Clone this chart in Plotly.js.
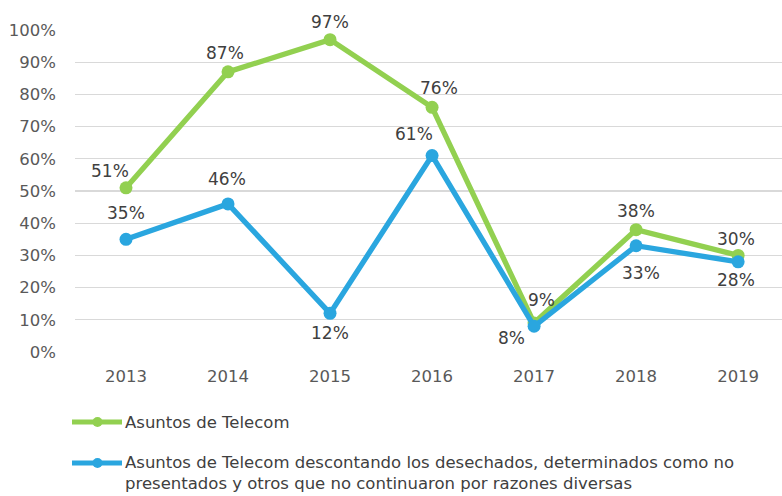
<!DOCTYPE html>
<html>
<head>
<meta charset="utf-8">
<script src="https://cdn.plot.ly/plotly-3.0.1.min.js"></script>
<style>html,body{margin:0;padding:0;background:#fff}#chart{width:782px;height:496px}</style>
</head>
<body>
<div id="chart"></div>
<script>
// ---- data ----
const years = ['2013','2014','2015','2016','2017','2018','2019'];
const telecom = [0.51, 0.87, 0.97, 0.76, 0.09, 0.38, 0.30];
const telecomNet = [0.35, 0.46, 0.12, 0.61, 0.08, 0.33, 0.28];
const seriesNames = [
  'Asuntos de Telecom',
  'Asuntos de Telecom descontando los desechados, determinados como no<br>presentados y otros que no continuaron por razones diversas'
];
const yTickVals = [0,0.1,0.2,0.3,0.4,0.5,0.6,0.7,0.8,0.9,1.0];

// ---- styling ----
const GREEN = '#92D050';
const BLUE = '#2AA6DF';
const FONT = 'DejaVu Sans, Verdana, sans-serif';
const FS = 16.5;
const LFS = 17;
// label offsets in pixels (screen: +x right, +y down)
const greenDx = [-16,-3,0,7,7,0,-2], greenDy = [-17,-19,-18,-19,-23,-19,-16];
const blueDx = [0,-1,0,-18,-23,5,-2], blueDy = [-26,-25,20,-22,12,27,18];

const L = 75, R = 0, T = 30, B = 144, W = 782, H = 496;
const PW = W - L - R, PH = H - T - B;
const px2x = p => (p - L) / PW;
const px2y = p => 1 - (p - T) / PH;

function trace(y, color) {
  return {
    x: years, y: y, type: 'scatter', mode: 'lines+markers',
    line: {color: color, width: 5.3},
    marker: {color: color, size: 13},
    cliponaxis: false, hoverinfo: 'skip', showlegend: false
  };
}

const annotations = [];
function addLabels(vals, dx, dy) {
  vals.forEach((v, i) => {
    annotations.push({
      x: i, y: v, xref: 'x', yref: 'y',
      text: Math.round(v * 100) + '%', showarrow: false,
      xanchor: 'center', yanchor: 'middle',
      xshift: dx[i], yshift: -dy[i],
      font: {family: FONT, size: LFS, color: '#404040'}
    });
  });
}
addLabels(telecom, greenDx, greenDy);
addLabels(telecomNet, blueDx, blueDy);

// legend (manual)
const shapes = [];
function legendItem(color, yc, name, multiline) {
  shapes.push({type: 'line', xref: 'paper', yref: 'paper',
    x0: px2x(72), x1: px2x(122), y0: px2y(yc), y1: px2y(yc),
    line: {color: color, width: 5}});
  shapes.push({type: 'circle', xref: 'paper', yref: 'paper',
    x0: px2x(92.5), x1: px2x(102.5), y0: px2y(yc - 5), y1: px2y(yc + 5),
    fillcolor: color, line: {color: color, width: 0}});
  annotations.push({
    xref: 'paper', yref: 'paper', x: px2x(123), y: px2y(multiline ? yc - 12 : yc),
    xanchor: 'left', yanchor: multiline ? 'top' : 'middle', align: 'left',
    text: name, showarrow: false,
    font: {family: FONT, size: FS, color: '#404040'}
  });
}
legendItem(GREEN, 422, seriesNames[0], false);
legendItem(BLUE, 463, seriesNames[1], true);

const layout = {
  width: W, height: H,
  margin: {l: L, r: R, t: T, b: B, pad: 0},
  paper_bgcolor: '#fff', plot_bgcolor: '#fff',
  font: {family: FONT, size: FS, color: '#595959'},
  showlegend: false,
  xaxis: {
    type: 'category', range: [-0.5, 6.43],
    showgrid: false, zeroline: false, showline: false,
    ticks: '', ticklabelstandoff: 12,
    tickfont: {family: FONT, size: FS, color: '#595959'}
  },
  yaxis: {
    range: [0, 1], tickvals: yTickVals, tickformat: '.0%',
    showgrid: true, gridcolor: '#D9D9D9', gridwidth: 1.3,
    zeroline: false,
    showline: false, ticks: '', ticklabelstandoff: 18,
    tickfont: {family: FONT, size: FS, color: '#595959'}
  },
  annotations: annotations,
  shapes: shapes
};

Plotly.newPlot('chart', [trace(telecom, GREEN), trace(telecomNet, BLUE)], layout, {displayModeBar: false, staticPlot: true});
</script>
</body>
</html>
